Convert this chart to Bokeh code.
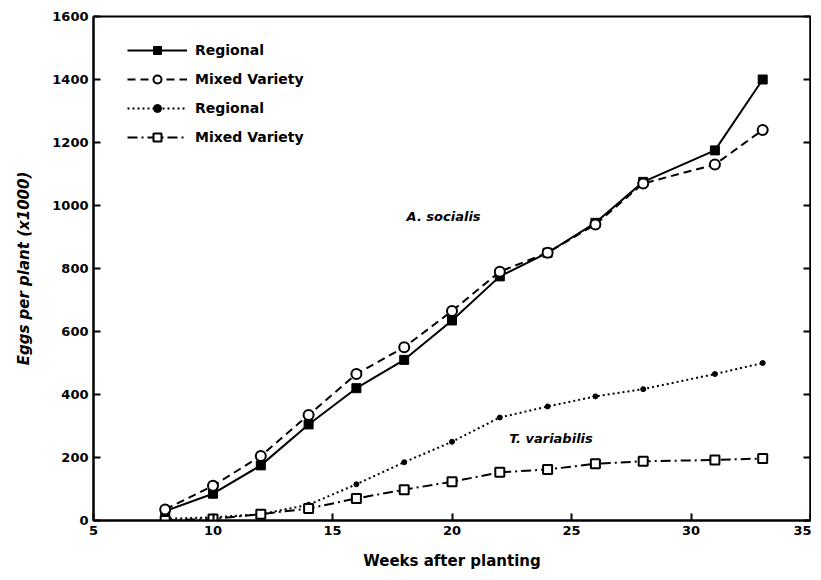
from bokeh.plotting import figure
from bokeh.models import LinearAxis, Legend, LegendItem, Label, FixedTicker, Range1d
from bokeh.embed import file_html
from bokeh.resources import INLINE

weeks = [8, 10, 12, 14, 16, 18, 20, 22, 24, 26, 28, 31, 33]
a_regional = [30, 85, 175, 305, 420, 510, 635, 775, 850, 945, 1075, 1175, 1400]
a_mixed = [35, 110, 205, 335, 465, 550, 665, 790, 850, 940, 1070, 1130, 1240]
t_regional = [5, 10, 20, 50, 115, 185, 250, 327, 362, 394, 417, 465, 500]
t_mixed = [0, 5, 20, 38, 70, 98, 123, 153, 162, 180, 188, 192, 197]

x_ticks = [5, 10, 15, 20, 25, 30, 35]
y_ticks = [0, 200, 400, 600, 800, 1000, 1200, 1400, 1600]

FONT = "DejaVu Sans"

p = figure(width=811, height=574, output_backend="svg", toolbar_location=None,
           x_range=Range1d(5, 35), y_range=Range1d(0, 1600),
           min_border_left=93, min_border_right=1, min_border_top=16, min_border_bottom=54)
p.xgrid.visible = False
p.ygrid.visible = False
p.outline_line_color = "black"
p.outline_line_width = 2
p.background_fill_color = "white"
p.border_fill_color = "white"

for ax in (p.xaxis[0], p.yaxis[0]):
    ax.axis_line_width = 2
    ax.major_tick_in = 7
    ax.major_tick_out = 0
    ax.major_tick_line_width = 2
    ax.minor_tick_line_color = None
    ax.major_label_text_font = FONT
    ax.major_label_text_font_style = "bold"
    ax.major_label_text_font_size = "13px"
    ax.major_label_text_color = "black"
    ax.axis_label_text_font = FONT
    ax.axis_label_text_font_size = "15px"
    ax.axis_label_text_color = "black"

p.xaxis[0].ticker = FixedTicker(ticks=x_ticks)
p.yaxis[0].ticker = FixedTicker(ticks=y_ticks)
p.xaxis[0].axis_label = "Weeks after planting"
p.xaxis[0].axis_label_text_font_style = "bold"
p.xaxis[0].axis_label_standoff = 14
p.yaxis[0].axis_label = "Eggs per plant (x1000)"
p.yaxis[0].axis_label_text_font_style = "bold italic"
p.yaxis[0].axis_label_standoff = 16

right = LinearAxis(ticker=FixedTicker(ticks=y_ticks), major_tick_in=7, major_tick_out=0,
                   major_tick_line_width=2, minor_tick_line_color=None, axis_line_width=2,
                   major_label_text_color=None, major_label_standoff=0)
p.add_layout(right, "right")

r1 = p.line(weeks, a_regional, line_color="black", line_width=2)
r1m = p.scatter(weeks, a_regional, marker="square", size=9, fill_color="black", line_color="black")
r2 = p.line(weeks, a_mixed, line_color="black", line_width=2, line_dash="8 5")
r2m = p.scatter(weeks, a_mixed, marker="circle", size=10, fill_color="white", line_color="black", line_width=2)
r3 = p.line(weeks, t_regional, line_color="black", line_width=2, line_dash="2 3")
r3m = p.scatter(weeks, t_regional, marker="circle", size=5, fill_color="black", line_color="black")
r4 = p.line(weeks, t_mixed, line_color="black", line_width=2, line_dash="10 4 2 4")
r4m = p.scatter(weeks, t_mixed, marker="square", size=9, fill_color="white", line_color="black", line_width=2)

legend = Legend(items=[
    LegendItem(label="Regional", renderers=[r1, r1m]),
    LegendItem(label="Mixed Variety", renderers=[r2, r2m]),
    LegendItem(label="Regional", renderers=[r3, r3m]),
    LegendItem(label="Mixed Variety", renderers=[r4, r4m]),
], location=(34, 373), border_line_color=None, background_fill_alpha=0, padding=0, margin=0,
    label_text_font=FONT, label_text_font_style="bold", label_text_font_size="14px",
    label_text_color="black",
    glyph_width=60, glyph_height=20, label_height=20, spacing=9, label_standoff=8)
p.add_layout(legend, "center")

p.add_layout(Label(x=18.1, y=940, text="A. socialis", text_font=FONT, text_color="black",
                   text_font_style="bold italic", text_font_size="13px"))
p.add_layout(Label(x=22.4, y=238, text="T. variabilis", text_font=FONT, text_color="black",
                   text_font_style="bold italic", text_font_size="13px"))

open("out.html", "w").write(file_html(p, INLINE))
